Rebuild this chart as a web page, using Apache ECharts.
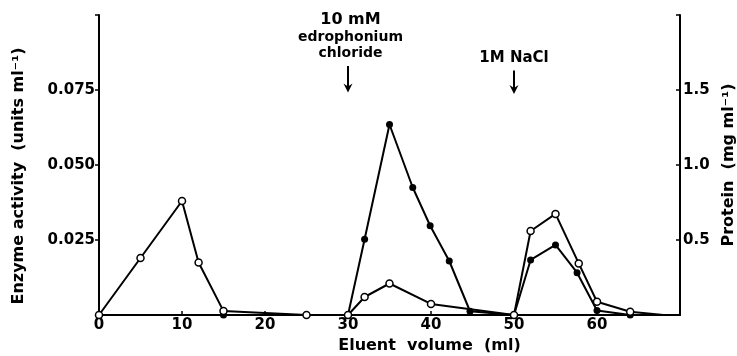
<!DOCTYPE html>
<html>
<head>
<meta charset="utf-8">
<script src="https://cdn.jsdelivr.net/npm/echarts@6/dist/echarts.min.js"></script>
<style>
  html, body { margin: 0; padding: 0; background: #fff; }
  #chart { width: 737px; height: 356px; }
</style>
</head>
<body>
<div id="chart"></div>
<script>
  // open circles: enzyme activity (left axis)
  const volumeOpen = [0, 5, 10, 12, 15, 25, 30, 32, 35, 40, 50, 52, 55, 57.8, 60, 64, 68]
  const activity = [0, 0.019, 0.038, 0.0175, 0.0013, 0, 0, 0.006, 0.0105, 0.0037, 0, 0.028, 0.0337, 0.0172, 0.0044, 0.0011, 0]
  // filled circles: protein (right axis)
  const volumeFilled = [15, 30, 32, 35, 37.8, 39.9, 42.2, 44.7, 50, 52, 55, 57.6, 60, 64, 68]
  const protein = [0, 0, 0.505, 1.27, 0.85, 0.595, 0.36, 0.025, 0, 0.367, 0.467, 0.282, 0.03, 0, 0]

  const xTicks = [0, 10, 20, 30, 40, 50, 60]
  const leftTicks = ['0.025', '0.050', '0.075']
  const rightTicks = ['0.5', '1.0', '1.5']

  const font = 'DejaVu Sans'
  const chart = echarts.init(document.getElementById('chart'))

  const pts = (xs, ys) => xs.map((x, i) => [x, ys[i]])
  const endSize = (s) => (v) => (v[0] >= 68 ? 0 : s)

  chart.setOption({
    animation: false,
    grid: { left: 99, right: 57, top: 15, bottom: 41, outerBoundsMode: 'none' },
    xAxis: {
      type: 'value',
      min: 0,
      max: 70,
      interval: 10,
      name: 'Eluent  volume  (ml)',
      nameLocation: 'middle',
      nameGap: 19,
      nameTextStyle: { color: '#000', fontFamily: font, fontSize: 16, fontWeight: 'bold', padding: [0, 0, 0, 80] },
      axisLine: { lineStyle: { color: '#000', width: 2 } },
      axisTick: { inside: true, length: 4, lineStyle: { color: '#000', width: 1.5 } },
      axisLabel: {
        color: '#000', fontFamily: font, fontSize: 15, fontWeight: 'bold', margin: 3,
        formatter: (v) => (xTicks.includes(v) ? String(v) : '')
      },
      splitLine: { show: false }
    },
    yAxis: [
      {
        type: 'value',
        min: 0,
        max: 0.1,
        interval: 0.025,
        name: 'Enzyme activity  (units ml⁻¹)',
        nameLocation: 'middle',
        nameGap: 72,
        nameTextStyle: { color: '#000', fontFamily: font, fontSize: 16, fontWeight: 'bold', padding: [0, 22, 0, 0] },
        axisLine: { show: true, lineStyle: { color: '#000', width: 2 } },
        axisTick: { show: true, length: 4, lineStyle: { color: '#000', width: 1.5 } },
        axisLabel: {
          color: '#000', fontFamily: font, fontSize: 15, fontWeight: 'bold', margin: 4,
          formatter: (v) => leftTicks.find((t) => Math.abs(+t - v) < 1e-6) || ''
        },
        splitLine: { show: false }
      },
      {
        type: 'value',
        min: 0,
        max: 2,
        interval: 0.5,
        position: 'right',
        name: 'Protein  (mg ml⁻¹)',
        nameLocation: 'middle',
        nameRotate: 90,
        nameGap: 40,
        nameTextStyle: { color: '#000', fontFamily: font, fontSize: 16, fontWeight: 'bold' },
        axisLine: { show: true, lineStyle: { color: '#000', width: 2 } },
        axisTick: { show: true, inside: true, length: 4, lineStyle: { color: '#000', width: 1.5 } },
        axisLabel: {
          color: '#000', fontFamily: font, fontSize: 15, fontWeight: 'bold', margin: 3,
          formatter: (v) => rightTicks.find((t) => Math.abs(+t - v) < 1e-6) || ''
        },
        splitLine: { show: false }
      }
    ],
    series: [
      {
        type: 'line',
        yAxisIndex: 1,
        data: pts(volumeFilled, protein),
        symbol: 'circle',
        symbolSize: endSize(7),
        lineStyle: { color: '#000', width: 2 },
        itemStyle: { color: '#000' },
        z: 3
      },
      {
        type: 'line',
        yAxisIndex: 0,
        data: pts(volumeOpen, activity),
        symbol: 'circle',
        symbolSize: endSize(7),
        lineStyle: { color: '#000', width: 2 },
        itemStyle: { color: '#fff', borderColor: '#000', borderWidth: 1.5 },
        z: 4
      }
    ]
  })

  // annotations: arrows placed through the axis scale
  const at = (x, y) => chart.convertToPixel({ xAxisIndex: 0, yAxisIndex: 0 }, [x, y])
  const arrow = (x, yTop, yTip) => {
    const a = at(x, yTop), b = at(x, yTip)
    return [
      { type: 'line', shape: { x1: a[0], y1: a[1], x2: b[0], y2: b[1] - 3 }, style: { stroke: '#000', lineWidth: 2 } },
      { type: 'polygon', shape: { points: [[b[0] - 4.5, b[1] - 9], [b[0], b[1] - 6], [b[0] + 4.5, b[1] - 9], [b[0], b[1]]] }, style: { fill: '#000' } }
    ]
  }
  const label = (x, y, text, size) => {
    const p = at(x, y)
    return { type: 'text', x: p[0], y: p[1], style: { text: text, fontFamily: font, fontSize: size, fontWeight: 'bold', fill: '#000', align: 'center', verticalAlign: 'middle' } }
  }
  chart.setOption({
    graphic: [
      label(30.3, 0.0983, '10 mM', 16),
      label(30.3, 0.0925, 'edrophonium', 14),
      label(30.3, 0.0872, 'chloride', 14),
      ...arrow(30, 0.0830, 0.0742),
      label(50, 0.0857, '1M NaCl', 15),
      ...arrow(50, 0.0815, 0.0737)
    ]
  })
</script>
</body>
</html>
